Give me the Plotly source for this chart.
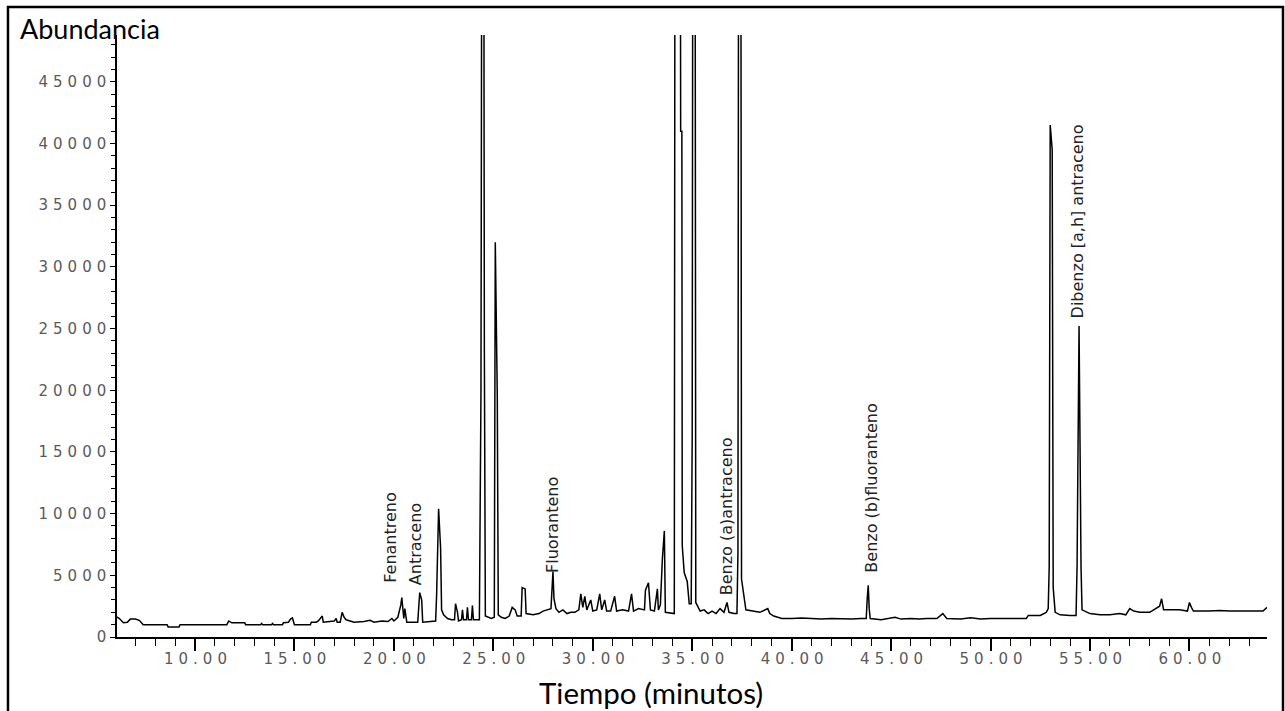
import plotly.graph_objects as go

# Chromatogram trace (retention time in minutes, abundance)
time_min = [
    6.05, 6.2, 6.4, 6.6, 6.75, 7.0, 7.2, 7.4, 8.6, 8.65, 9.2, 9.25, 11.6, 11.7, 11.85,
    12.5, 12.55, 13.3, 13.35, 13.4, 13.85, 13.9, 13.95, 14.4, 14.45, 14.7, 14.8, 14.9,
    15.0, 15.8, 15.85, 16.1, 16.2, 16.4, 16.45, 16.8, 17.0, 17.1, 17.15, 17.3, 17.4,
    17.5, 17.6, 17.8, 18.0, 18.5, 18.8, 19.0, 19.4, 19.7, 19.9, 20.0, 20.2, 20.35,
    20.4, 20.5, 20.55, 20.65, 21.2, 21.3, 21.4, 21.45, 22.1, 22.15, 22.25, 22.35,
    22.4, 22.5, 22.7, 22.9, 23.05, 23.1, 23.2, 23.25, 23.4, 23.45, 23.5, 23.65, 23.7,
    23.75, 23.9, 23.95, 24.0, 24.3, 24.38, 24.45, 24.5, 24.55, 24.6, 24.9, 25.05,
    25.1, 25.2, 25.25, 25.4, 25.6, 25.8, 25.95, 26.1, 26.2, 26.4, 26.45, 26.6, 26.65,
    27.0, 27.3, 27.5, 27.7, 27.9, 28.0, 28.05, 28.15, 28.3, 28.5, 28.7, 28.9, 29.1,
    29.3, 29.4, 29.5, 29.6, 29.7, 29.9, 30.0, 30.2, 30.35, 30.45, 30.6, 30.7, 30.9,
    31.1, 31.2, 31.5, 31.8, 31.95, 32.05, 32.3, 32.6, 32.65, 32.8, 32.9, 33.1, 33.25,
    33.3, 33.4, 33.5, 33.6, 33.65, 34.1, 34.15, 34.38, 34.42, 34.48, 34.5, 34.6, 34.75,
    34.85, 34.95, 35.0, 35.05, 35.13, 35.18, 35.4, 35.6, 35.8, 36.0, 36.2, 36.4, 36.6,
    36.75, 36.85, 37.1, 37.25, 37.3, 37.35, 37.43, 37.48, 37.7, 38.0, 38.4, 38.8, 38.9,
    39.1, 39.5, 40.0, 40.5, 41.0, 41.5, 42.0, 42.5, 43.0, 43.5, 43.75, 43.8, 43.85,
    43.9, 43.95, 44.5, 44.9, 45.2, 45.5, 46.0, 46.4, 46.8, 47.3, 47.6, 47.8, 48.5,
    49.0, 49.5, 50.0, 51.0, 51.8, 51.9, 52.5, 52.8, 52.9, 52.95, 53.0, 53.1, 53.15,
    53.25, 53.5, 54.0, 54.3, 54.35, 54.4, 54.45, 54.55, 54.6, 55.0, 55.5, 56.0, 56.5,
    56.8, 57.0, 57.2, 57.5, 58.0, 58.3, 58.5, 58.6, 58.7, 59.0, 59.5, 59.9, 60.0,
    60.1, 60.2, 61.0, 61.5, 62.0, 63.0, 63.7, 63.9,
]
abundance = [
    1650, 1500, 1150, 1200, 1450, 1450, 1350, 1000, 1000, 820, 820, 1000, 1000, 1300, 1150,
    1150, 1000, 1000, 1100, 1000, 1000, 1100, 1000, 1000, 1150, 1200, 1450, 1550,
    1000, 1000, 1200, 1200, 1300, 1700, 1200, 1300, 1300, 1500, 1200, 1200, 2000,
    1600, 1400, 1300, 1200, 1250, 1350, 1200, 1300, 1250, 1500, 1300, 1600, 2600,
    3200, 1500, 2300, 1200, 1200, 3600, 3000, 1200, 1300, 3400, 10400, 7200,
    2200, 1800, 1500, 1400, 1400, 2700, 2000, 1300, 1400, 2200, 1400, 1400, 2400,
    1400, 1400, 2550, 1400, 1400, 19800, 90000, 90000, 23200, 1700, 1500, 1600,
    32000, 19600, 1800, 1600, 1500, 1700, 2400, 2200, 1700, 1700, 4000, 3900, 1900,
    1800, 1900, 2100, 2200, 2300, 5300, 3100, 2300, 2000, 2200, 1900, 2000, 2000,
    2200, 3500, 2400, 3300, 2200, 3000, 2100, 2200, 3500, 2200, 3000, 2100, 2100,
    3300, 2100, 2200, 2100, 3500, 2100, 2300, 2200, 3800, 4400, 2200, 2100, 3900,
    2200, 2600, 6300, 8600, 2000, 1900, 90000, 90000, 41000, 41000, 7400, 5200, 4500,
    2700, 2700, 16300, 90000, 90000, 2800, 2100, 2200, 1900, 2100, 1900, 2300, 2000,
    2800, 2000, 1900, 1900, 6800, 90000, 90000, 4700, 2200, 2100, 2000, 2300, 1900,
    1700, 1500, 1500, 1550, 1500, 1450, 1500, 1450, 1450, 1500, 1500, 3100, 4200,
    2300, 1500, 1400, 1550, 1600, 1450, 1500, 1450, 1500, 1500, 1900, 1500, 1450,
    1550, 1450, 1500, 1500, 1500, 1750, 1750, 2000, 2300, 5700, 41500, 39500, 4000,
    2000, 1800, 1750, 1750, 5700, 21000, 25200, 5700, 2200, 1900, 1800, 1800, 1900,
    1800, 2300, 2100, 2000, 2000, 2300, 2500, 3100, 2200, 2200, 2200, 2100, 2800,
    2400, 2100, 2100, 2150, 2100, 2100, 2100, 2400,
]

# Labelled compounds
compounds = ["Fenantreno", "Antraceno", "Fluoranteno", "Benzo (a)antraceno",
             "Benzo (b)fluoranteno", "Dibenzo [a,h] antraceno"]
label_time = [19.86, 21.07, 28.0, 36.71, 44.0, 54.42]
label_base = [4200, 4050, 5030, 3240, 5030, 25700]

x_ticks = [10, 15, 20, 25, 30, 35, 40, 45, 50, 55, 60]
y_ticks = [0, 5000, 10000, 15000, 20000, 25000, 30000, 35000, 40000, 45000]

fig = go.Figure()
fig.add_trace(go.Scatter(x=time_min, y=abundance, mode="lines",
                         line=dict(color="black", width=1.5), hoverinfo="x+y"))

tickfont = dict(family="DejaVu Sans", size=15, color="#5a5a5a")

fig.update_layout(
    width=1285, height=711,
    margin=dict(l=117, r=18, t=35, b=74),
    plot_bgcolor="white", paper_bgcolor="white",
    showlegend=False,
    xaxis=dict(range=[6.08, 63.9], showline=True, linecolor="black", linewidth=1.5,
               ticks="outside", ticklen=12, tickwidth=1.5, tickcolor="black",
               tickvals=x_ticks, ticktext=[f"{v:.2f}" for v in x_ticks],
               tickfont=tickfont, showgrid=False, zeroline=False,
               ticklabelstandoff=-5, ticklabelshift=3,
               minor=dict(dtick=1, tick0=0, ticks="outside", ticklen=7, tickwidth=1.2,
                          tickcolor="black", showgrid=False)),
    yaxis=dict(range=[0, 48800], showline=True, linecolor="black", linewidth=1.5,
               ticks="outside", ticklen=5, tickwidth=1.2, tickcolor="black",
               tickvals=y_ticks, ticktext=[str(v) for v in y_ticks],
               tickfont=tickfont, showgrid=False, zeroline=False,
               ticklabelstandoff=-4,
               minor=dict(dtick=1000, tick0=0, ticks="outside", ticklen=4, tickwidth=1.2,
                          tickcolor="black", showgrid=False)),
)

# compound labels, rotated
for name, t, b in zip(compounds, label_time, label_base):
    fig.add_annotation(x=t, y=b, xref="x", yref="y", text=name, textangle=-90,
                       showarrow=False, xanchor="center", yanchor="bottom",
                       font=dict(family="DejaVu Sans", size=16, color="#222222"))

# axis titles
fig.add_annotation(x=-0.0861, y=1.0116, xref="paper", yref="paper", text="Abundancia",
                   showarrow=False, xanchor="left", yanchor="middle",
                   font=dict(family="Lato", size=27, color="black"))
fig.add_annotation(x=0.4643, y=-0.093, xref="paper", yref="paper", text="Tiempo (minutos)",
                   showarrow=False, xanchor="center", yanchor="middle",
                   font=dict(family="Lato", size=29.5, color="black"))

# outer frame
fig.add_shape(type="rect", xref="paper", yref="paper", x0=-0.0948, x1=1.0139,
              y0=-0.15, y1=1.0465, line=dict(color="black", width=2.5), layer="above")

page_js = (
    "document.body.style.margin='0';"
    "document.body.style.overflow='hidden';"
    "document.querySelectorAll('.xtick text, .ytick text')"
    ".forEach(function(t){t.style.letterSpacing='5px';});"
)
fig.write_html("out.html", post_script=page_js, config={"displayModeBar": False})
